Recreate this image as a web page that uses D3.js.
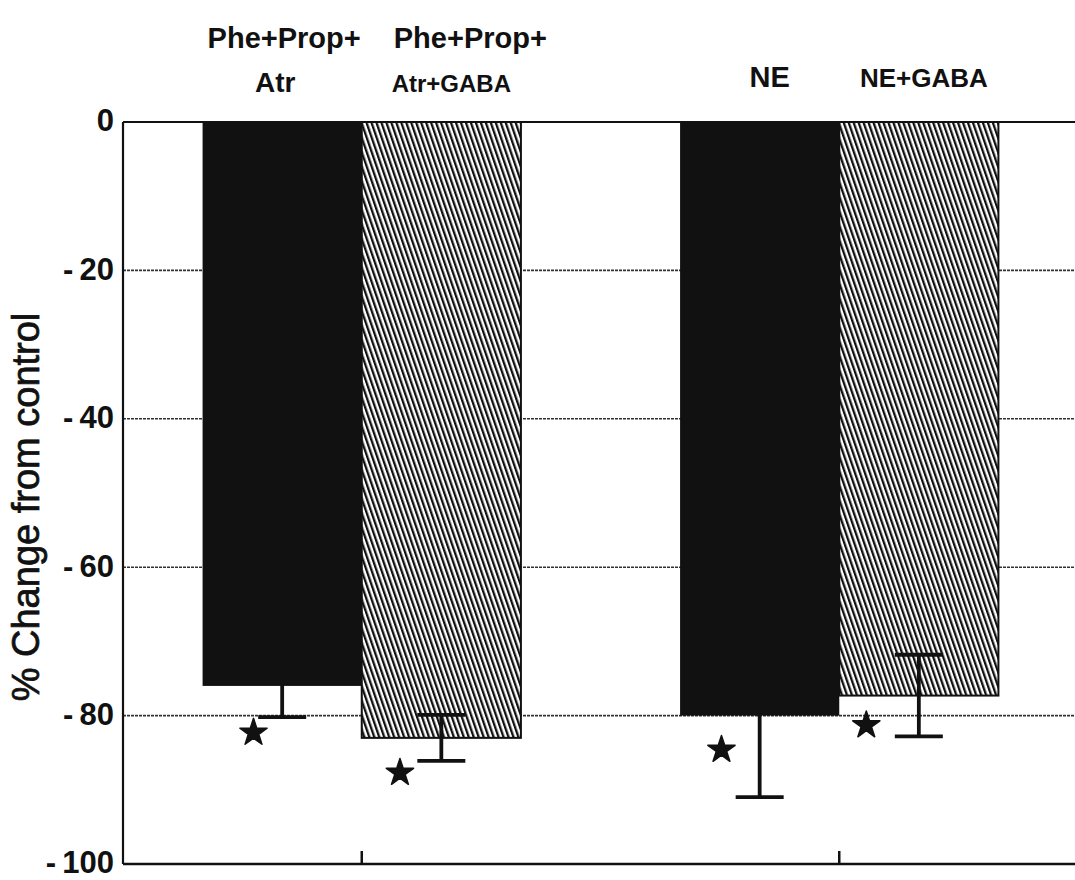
<!DOCTYPE html>
<html>
<head>
<meta charset="utf-8">
<script src="https://cdn.jsdelivr.net/npm/d3@7"></script>
<style>
  html, body { margin: 0; padding: 0; background: #ffffff; }
  svg { display: block; }
  text { font-family: "Liberation Sans", Arial, Helvetica, sans-serif; fill: #111; }
</style>
</head>
<body>
<svg id="chart" width="1075" height="880"></svg>
<script>
// ---- data ----
const categories = ["Phe+Prop+ Atr", "Phe+Prop+ Atr+GABA", "NE", "NE+GABA"];
const labelLine1 = ["Phe+Prop+", "Phe+Prop+", "NE", "NE+GABA"];
const labelLine2 = ["Atr", "Atr+GABA", "", ""];
const values = [-76, -83, -80, -77.3];
const errors = [4.2, 3.1, 11, 5.5];
const starValues = [-82.3, -87.7, -84.6, -81.3];
const fills = ["solid", "hatch", "solid", "hatch"];
const yTicks = [0, -20, -40, -60, -80, -100];
const yTitle = "% Change from control";

(function () {
// ---- layout ----
const svg = d3.select("#chart");
const W = 1075;
const mLeft = 123, mTop = 122, mBottom = 864;

const slots = ["c0", "c1", "gap", "c2", "c3"];
const x = d3.scaleBand().domain(slots).range([mLeft, 1078]).paddingInner(0).paddingOuter(0.5);
const slotOf = i => ["c0", "c1", "c2", "c3"][i];
const y = d3.scaleLinear().domain([0, -100]).range([mTop, mBottom]);

const defs = svg.append("defs");
const pat = defs.append("pattern")
  .attr("id", "hatch")
  .attr("patternUnits", "userSpaceOnUse")
  .attr("width", 4.7).attr("height", 20)
  .attr("patternTransform", "rotate(-19)");
pat.append("rect").attr("width", 4.7).attr("height", 20).attr("fill", "#fff");
pat.append("rect").attr("width", 2.3).attr("height", 20).attr("fill", "#111");

// gridlines (dotted)
svg.append("g").selectAll("line")
  .data(yTicks.filter(t => t !== 0 && t !== -100))
  .join("line")
  .attr("x1", mLeft).attr("x2", W)
  .attr("y1", d => y(d)).attr("y2", d => y(d))
  .attr("stroke", "#333").attr("stroke-width", 1.6)
  .attr("stroke-dasharray", "3,1");

// bars
svg.append("g").selectAll("rect")
  .data(values)
  .join("rect")
  .attr("x", (d, i) => x(slotOf(i)))
  .attr("width", x.bandwidth())
  .attr("y", y(0))
  .attr("height", d => y(d) - y(0))
  .attr("fill", (d, i) => fills[i] === "solid" ? "#111" : "url(#hatch)")
  .attr("stroke", "#111")
  .attr("stroke-width", (d, i) => fills[i] === "solid" ? 0 : 2);

// error bars
const eb = svg.append("g").attr("stroke", "#111").attr("stroke-width", 3.8);
values.forEach((v, i) => {
  const cx = x(slotOf(i)) + x.bandwidth() / 2;
  const capW = 48;
  const lo = v - errors[i], hi = v + errors[i];
  eb.append("line").attr("x1", cx).attr("x2", cx).attr("y1", y(hi)).attr("y2", y(lo));
  eb.append("line").attr("x1", cx - capW / 2).attr("x2", cx + capW / 2).attr("y1", y(lo)).attr("y2", y(lo));
  eb.append("line").attr("x1", cx - capW / 2).attr("x2", cx + capW / 2).attr("y1", y(hi)).attr("y2", y(hi));
});

// significance stars
const starDx = [0.32, 0.24, 0.26, 0.17];
svg.append("g").selectAll("path")
  .data(starValues)
  .join("path")
  .attr("d", d3.symbol().type(d3.symbolStar).size(230))
  .attr("transform", (d, i) => `translate(${x(slotOf(i)) + x.bandwidth() * starDx[i]},${y(d)})`)
  .attr("fill", "#111")
  .attr("stroke", "#111").attr("stroke-width", 1.5).attr("stroke-linejoin", "round");

// axes frame
svg.append("line").attr("x1", mLeft).attr("x2", W).attr("y1", y(0)).attr("y2", y(0))
  .attr("stroke", "#111").attr("stroke-width", 2.2);
svg.append("line").attr("x1", mLeft).attr("x2", W).attr("y1", y(-100)).attr("y2", y(-100))
  .attr("stroke", "#111").attr("stroke-width", 2.6);
svg.append("line").attr("x1", mLeft).attr("x2", mLeft).attr("y1", y(0)).attr("y2", y(-100))
  .attr("stroke", "#111").attr("stroke-width", 2.2);

// group ticks on bottom axis
svg.append("g").selectAll("line")
  .data([1, 3])
  .join("line")
  .attr("x1", i => x(slotOf(i))).attr("x2", i => x(slotOf(i)))
  .attr("y1", y(-100)).attr("y2", y(-100) - 13)
  .attr("stroke", "#111").attr("stroke-width", 2.5);

// y tick labels
svg.append("g").selectAll("text")
  .data(yTicks)
  .join("text")
  .attr("x", 114)
  .attr("y", d => y(d))
  .attr("dy", "0.3em")
  .attr("text-anchor", "end")
  .attr("font-size", 31)
  .attr("font-weight", "bold")
  .text(d => d === 0 ? "0" : "-\u2009" + Math.abs(d));

// y title
svg.append("text")
  .attr("transform", `translate(39,507) rotate(-90)`)
  .attr("text-anchor", "middle")
  .attr("font-size", 38)
  .attr("stroke", "#111").attr("stroke-width", 0.7)
  .text(yTitle);

// top category labels
const l1dx = [2, 29, 10, 5];
const l1size = [29, 29, 29, 26];
const l1y = [48, 48, 87, 87];
svg.append("g").selectAll("text")
  .data(labelLine1)
  .join("text")
  .attr("x", (d, i) => x(slotOf(i)) + x.bandwidth() / 2 + l1dx[i])
  .attr("y", (d, i) => l1y[i])
  .attr("text-anchor", "middle")
  .attr("font-weight", "bold")
  .attr("font-size", (d, i) => l1size[i])
  .text(d => d);

const l2dx = [-7, 10, 0, 0];
const l2size = [28, 24, 0, 0];
svg.append("g").selectAll("text")
  .data(labelLine2.filter(d => d))
  .join("text")
  .attr("x", (d, i) => x(slotOf(i)) + x.bandwidth() / 2 + l2dx[i])
  .attr("y", 92)
  .attr("text-anchor", "middle")
  .attr("font-weight", "bold")
  .attr("font-size", (d, i) => l2size[i])
  .text(d => d);
})();
</script>
</body>
</html>
